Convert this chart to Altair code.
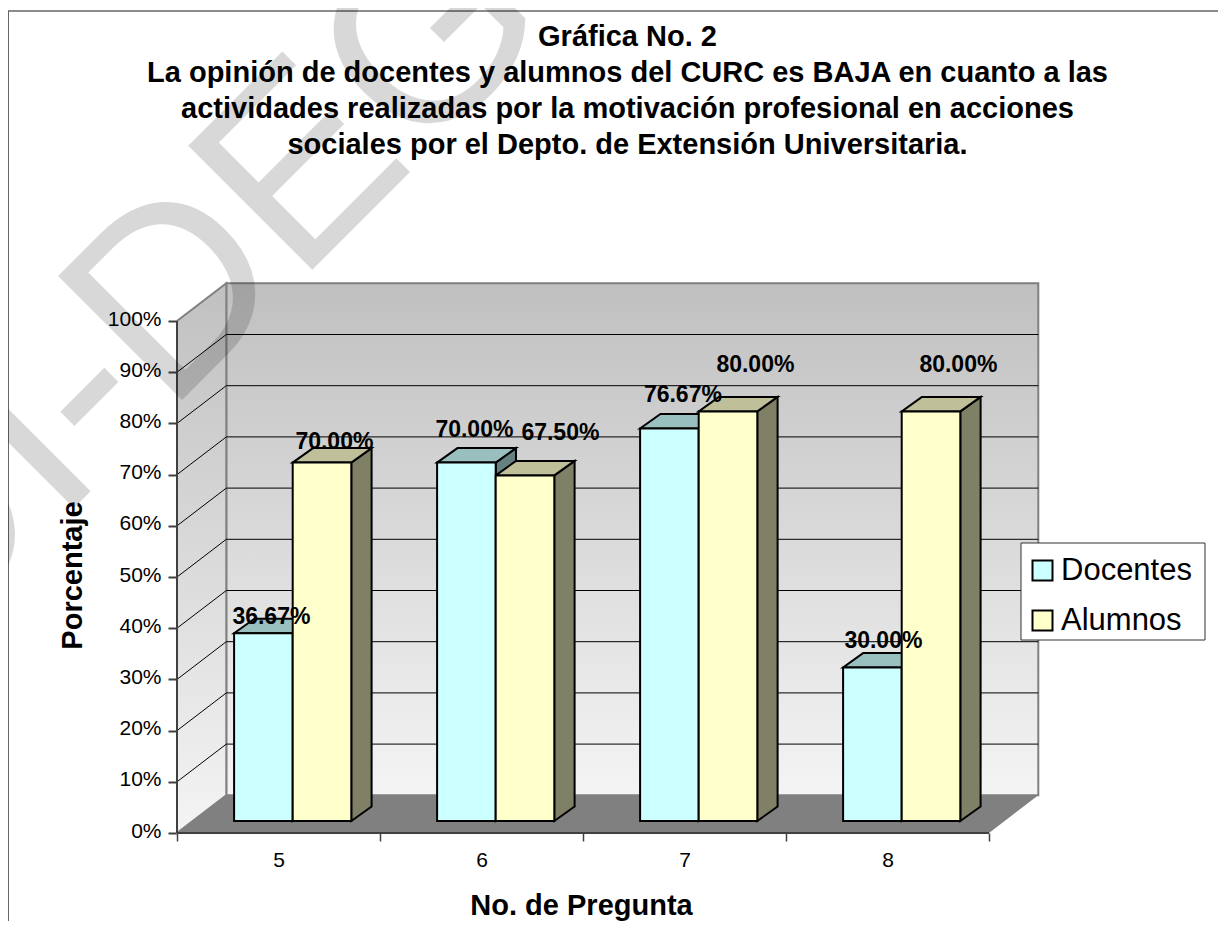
import altair as alt
import pandas as pd

# ---- data
categories = [5, 6, 7, 8]
docentes = [36.67, 70.00, 76.67, 30.00]
alumnos = [70.00, 67.50, 80.00, 80.00]
title_lines = [
    "Gráfica No. 2",
    "La opinión de docentes y alumnos del  CURC es BAJA en cuanto a las",
    "actividades realizadas por la motivación profesional en acciones",
    "sociales por el Depto. de Extensión Universitaria.",
]
y_ticks = list(range(0, 101, 10))

# ---- geometry of the pseudo-3D box
PX_X = 203.0      # px per category
PX_Y = 5.12       # px per percent
W, H = 861, 550
DX, DY = 49.3 / PX_X, 37.7 / PX_Y          # depth of the box
BX, BY = 14.2 / PX_X, 12.0 / PX_Y          # front plane of the bars
SX, SY = 20.3 / PX_X, 14.5 / PX_Y          # depth of a bar
BW = 58.6 / PX_X                           # width of a bar
NC = len(categories)
x_scale = alt.Scale(domain=[0, W / PX_X], nice=False, zero=False)
y_scale = alt.Scale(domain=[0, H / PX_Y], nice=False, zero=False)

x_axis = alt.Axis(
    values=[i / 2 for i in range(2 * NC + 1)], domain=False, grid=False,
    labelExpr=f"datum.value % 1 === 0 ? '' : {categories}[floor(datum.value)]",
    tickOpacity={"condition": {"test": "datum.value % 1 !== 0", "value": 0}, "value": 1},
    tickColor="#404040", tickSize=8, tickWidth=1.5,
    labelFontSize=21, labelColor="black", labelFont="Liberation Sans", labelPadding=8,
    titleFont="Liberation Sans", titleFontSize=29, titleFontWeight="bold",
    titleColor="black", titleX=404, titleY=72, titleBaseline="middle",
)
y_axis = alt.Axis(
    values=y_ticks, labelExpr="datum.value + '%'", domain=False, grid=False,
    tickColor="#404040", tickSize=9, tickWidth=2, labelFontSize=21, labelOffset=-2,
    labelColor="black", labelFont="Liberation Sans", labelPadding=7,
    titleFont="Liberation Sans", titleFontSize=29, titleFontWeight="bold",
    titleColor="black", titleX=-105, titleY=292, titleAngle=270, titleBaseline="middle",
)
X = alt.X("x:Q", scale=x_scale, title="No. de Pregunta", axis=x_axis)
Y = alt.Y("y:Q", scale=y_scale, title="Porcentaje", axis=y_axis)

# label offsets from the bar's centre / top, px
doc_lab_dx, doc_lab_dy = [8, 8, 13.5, 11], [16, 33, 33, 26]
alu_lab_dx, alu_lab_dy = [12.4, 35.4, 27.4, 27.4], [21, 42, 46, 46]


def grad(top, bottom):
    return alt.Gradient(gradient="linear", x1=0, x2=0, y1=0, y2=1,
                        stops=[alt.GradientStop(color=top, offset=0),
                               alt.GradientStop(color=bottom, offset=1)])


def bar_tables(vals, left_of):
    side, top = [], []
    for i, v in enumerate(vals):
        x0 = i + 0.5 + BX + left_of * BW
        x1 = x0 + BW
        side += [dict(k=i, x=x1, y=BY, y2=BY + v),
                 dict(k=i, x=x1 + SX, y=BY + SY, y2=BY + v + SY)]
        top += [dict(k=i, y=BY + v, x=x0, x2=x1),
                dict(k=i, y=BY + v + SY, x=x0 + SX, x2=x1 + SX)]
    return pd.DataFrame(side), pd.DataFrame(top)


EDGE = dict(stroke="black", strokeWidth=2)


def side_layer(df, color):
    return alt.Chart(df).mark_area(color=color, **EDGE).encode(
        x=X, y=Y, y2="y2:Q", detail="k:N")


def top_layer(df, color):
    return alt.Chart(df).mark_area(color=color, orient="horizontal", **EDGE).encode(
        y=Y, x=X, x2="x2:Q", detail="k:N")


# ---- walls and floor
back_df = pd.DataFrame([dict(x=DX, x2=NC + DX, y=DY, y2=100 + DY)])
back = alt.Chart(back_df).mark_rect(color=grad("#c0c0c0", "#f4f4f4"),
                                    stroke="#808080", strokeWidth=2).encode(
    x=X, x2="x2:Q", y=Y, y2="y2:Q")
left_df = pd.DataFrame([dict(x=0, y=0, y2=100), dict(x=DX, y=DY, y2=100 + DY)])
left = alt.Chart(left_df).mark_area(color=grad("#c0c0c0", "#f4f4f4"),
                                    stroke="#808080", strokeWidth=2).encode(
    x=X, y=Y, y2="y2:Q")
floor_df = pd.DataFrame([dict(y=0, x=0, x2=NC), dict(y=DY, x=DX, x2=NC + DX)])
floor = alt.Chart(floor_df).mark_area(color="#808080", orient="horizontal").encode(
    y=Y, x=X, x2="x2:Q")

grid_rows = []
for v in y_ticks[1:-1]:
    grid_rows += [dict(g=f"b{v}", x=DX, y=v + DY), dict(g=f"b{v}", x=NC + DX, y=v + DY),
                  dict(g=f"l{v}", x=0, y=v), dict(g=f"l{v}", x=DX, y=v + DY)]
grid = alt.Chart(pd.DataFrame(grid_rows)).mark_line(color="black", strokeWidth=1, clip=False).encode(
    x=X, y=Y, detail="g:N")

axis_lines = alt.Chart(pd.DataFrame([
    dict(g="v", x=0, y=100), dict(g="v", x=0, y=0), dict(g="h", x=0, y=0), dict(g="h", x=NC, y=0),
])).mark_line(color="#404040", strokeWidth=2).encode(x=X, y=Y, detail="g:N")

# ---- bars
doc_side, doc_top = bar_tables(docentes, -1)
alu_side, alu_top = bar_tables(alumnos, 0)

front = pd.DataFrame(
    [dict(s="Docentes", x=i + 0.5 + BX - BW, x2=i + 0.5 + BX, y=BY, y2=BY + v) for i, v in enumerate(docentes)]
    + [dict(s="Alumnos", x=i + 0.5 + BX, x2=i + 0.5 + BX + BW, y=BY, y2=BY + v) for i, v in enumerate(alumnos)]
)
fronts = alt.Chart(front).mark_bar(**EDGE).encode(
    x=X, x2="x2:Q", y=Y, y2="y2:Q",
    color=alt.Color("s:N", title=None,
                    scale=alt.Scale(domain=["Docentes", "Alumnos"], range=["#CCFFFF", "#FFFFCC"]),
                    legend=alt.Legend(orient="none", legendX=838, legendY=260, padding=12,
                                      symbolType="square", symbolSize=400, symbolStrokeColor="black",
                                      symbolStrokeWidth=2, symbolOpacity=1, labelFontSize=31,
                                      labelFont="Liberation Sans", labelColor="black", labelLimit=200,
                                      rowPadding=18, labelOffset=3)),
)

# ---- value labels
lab_rows = []
for i in range(NC):
    for vals, side, dxs, dys in ((docentes, -0.5, doc_lab_dx, doc_lab_dy), (alumnos, 0.5, alu_lab_dx, alu_lab_dy)):
        lab_rows.append(dict(x=i + 0.5 + BX + side * BW + dxs[i] / PX_X,
                             y=BY + vals[i] + dys[i] / PX_Y,
                             t=f"{vals[i]:.2f}%"))
labels = alt.Chart(pd.DataFrame(lab_rows)).mark_text(
    font="Liberation Sans", fontWeight="bold", fontSize=23, color="black", baseline="middle", align="center"
).encode(x=X, y=Y, text="t:N")

# ---- frame, legend box and watermark
one = pd.DataFrame({"a": [0]})
frame_h = alt.Chart(one).mark_rule(color="#666666", strokeWidth=1.5, clip=False).encode(
    x=alt.value(-169), x2=alt.value(1041), y=alt.value(-272))
frame_v = alt.Chart(one).mark_rule(color="#666666", strokeWidth=2, clip=False).encode(
    x=alt.value(-169), y=alt.value(-272), y2=alt.value(640))
legend_box = alt.Chart(one).mark_rect(fill="white", stroke="#333333", strokeWidth=1, clip=False).encode(
    x=alt.value(844), x2=alt.value(1028), y=alt.value(260), y2=alt.value(357))
watermark = alt.Chart(pd.DataFrame({"t": ["DI-DEG"]})).mark_text(
    font="Liberation Sans", fontSize=255, color="black", opacity=0.15, angle=315,
    align="left", baseline="alphabetic", clip=False
).encode(x=alt.value(-250), y=alt.value(372), text="t:N")

chart = alt.layer(
    back, left, floor, grid, axis_lines,
    side_layer(doc_side, "#668080"), top_layer(doc_top, "#99BFBF"),
    side_layer(alu_side, "#808066"), top_layer(alu_top, "#BFBF99"),
    fronts, labels, legend_box, frame_h, frame_v, watermark,
).properties(
    width=W, height=H,
    autosize="none",
    padding={"left": 169, "top": 275, "right": 180, "bottom": 88},
    background="white",
    title=alt.TitleParams(text=title_lines, font="Liberation Sans", fontSize=29, fontWeight="bold",
                          color="black", lineHeight=36, anchor="middle", dx=20, offset=0, dy=280),
).configure_view(stroke=None)

chart.save("out.html", embed_options={"renderer": "svg", "actions": False})
